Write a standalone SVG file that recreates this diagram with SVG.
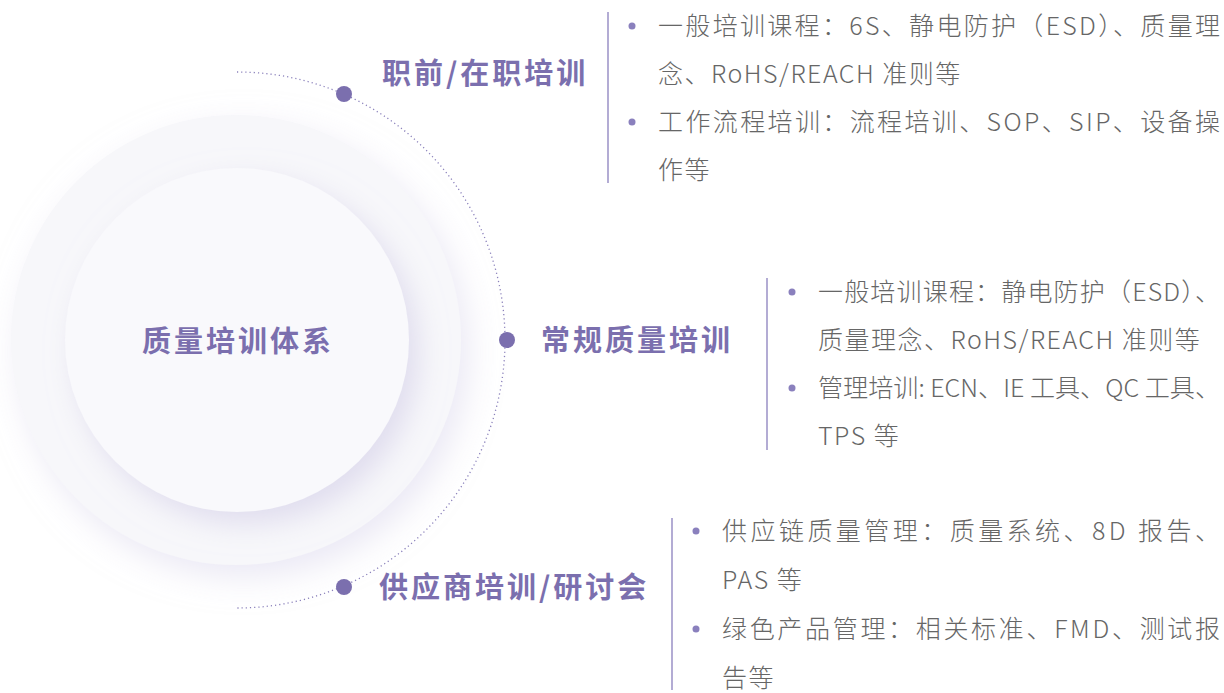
<svg xmlns="http://www.w3.org/2000/svg" width="1224" height="693" viewBox="0 0 1224 693">
  <defs>
    <filter id="shOuter" x="-30%" y="-30%" width="160%" height="160%">
      <feDropShadow dx="8" dy="12" stdDeviation="16" flood-color="#d6d2ea" flood-opacity="0.5"/>
    </filter>
    <filter id="shInner" x="-30%" y="-30%" width="160%" height="160%">
      <feDropShadow dx="10" dy="12" stdDeviation="14" flood-color="#d4cfe8" flood-opacity="0.65"/>
    </filter>
    <style>
      .title { font-family: "Noto Sans CJK SC", "Noto Sans", sans-serif; font-weight: 700; font-size: 29px; fill: #7b6fae; letter-spacing: 3px; }
      .body { font-family: "Noto Sans CJK SC", "Noto Sans", sans-serif; font-weight: 300; font-size: 25px; fill: #666666; letter-spacing: 1.5px; }
      .just { letter-spacing: 0; }
      .dot { fill: #7b6fae; }
      .bullet { fill: #8a80bd; }
      .vline { stroke: #9a91c6; stroke-width: 1.5; }
      .arc { fill: none; stroke: #8a80bb; stroke-width: 1.3; stroke-dasharray: 1.2 3; }
    </style>
  </defs>
  <rect width="1224" height="693" fill="#ffffff"/>

  <g id="center">
    <circle cx="236" cy="340" r="225" fill="#f7f7fa" filter="url(#shOuter)"/>
    <circle cx="237" cy="340" r="172" fill="#f9f9fc" filter="url(#shInner)"/>
    <text class="title" x="142" y="352">质量培训体系</text>
  </g>

  <g id="connectors">
    <path class="arc" d="M237 72 A268 268 0 0 1 237 608"/>
  </g>

  <g id="node1">
    <circle class="dot" cx="344" cy="94" r="8"/>
    <text class="title" x="382" y="84">职前/在职培训</text>
    <line class="vline" x1="608" y1="12" x2="608" y2="183"/>
    <circle class="bullet" cx="632" cy="26" r="3.5"/>
    <text class="body just" x="658" y="35" textLength="562" lengthAdjust="spacing">一般培训课程：6S、静电防护（ESD）、质量理</text>
    <text class="body" x="658" y="83">念、RoHS/REACH 准则等</text>
    <circle class="bullet" cx="632" cy="122" r="3.5"/>
    <text class="body just" x="658" y="131" textLength="562" lengthAdjust="spacing">工作流程培训：流程培训、SOP、SIP、设备操</text>
    <text class="body" x="658" y="179">作等</text>
  </g>

  <g id="node2">
    <circle class="dot" cx="507" cy="340" r="8"/>
    <text class="title" x="541" y="351">常规质量培训</text>
    <line class="vline" x1="767" y1="278" x2="767" y2="450"/>
    <circle class="bullet" cx="792" cy="292" r="3.5"/>
    <text class="body just" x="818" y="301" textLength="402" lengthAdjust="spacing">一般培训课程：静电防护（ESD）、</text>
    <text class="body" x="818" y="349">质量理念、RoHS/REACH 准则等</text>
    <circle class="bullet" cx="792" cy="388" r="3.5"/>
    <text class="body just" x="818" y="397" textLength="402" lengthAdjust="spacingAndGlyphs">管理培训: ECN、IE 工具、QC 工具、</text>
    <text class="body" x="818" y="445">TPS 等</text>
  </g>

  <g id="node3">
    <circle class="dot" cx="344" cy="587" r="8"/>
    <text class="title" x="379" y="598">供应商培训/研讨会</text>
    <line class="vline" x1="672" y1="518" x2="672" y2="690"/>
    <circle class="bullet" cx="696" cy="531" r="3.5"/>
    <text class="body just" x="722" y="540" textLength="498" lengthAdjust="spacing">供应链质量管理：质量系统、8D 报告、</text>
    <text class="body" x="722" y="589">PAS 等</text>
    <circle class="bullet" cx="696" cy="629" r="3.5"/>
    <text class="body just" x="722" y="638" textLength="498" lengthAdjust="spacing">绿色产品管理：相关标准、FMD、测试报</text>
    <text class="body" x="722" y="687">告等</text>
  </g>
</svg>
